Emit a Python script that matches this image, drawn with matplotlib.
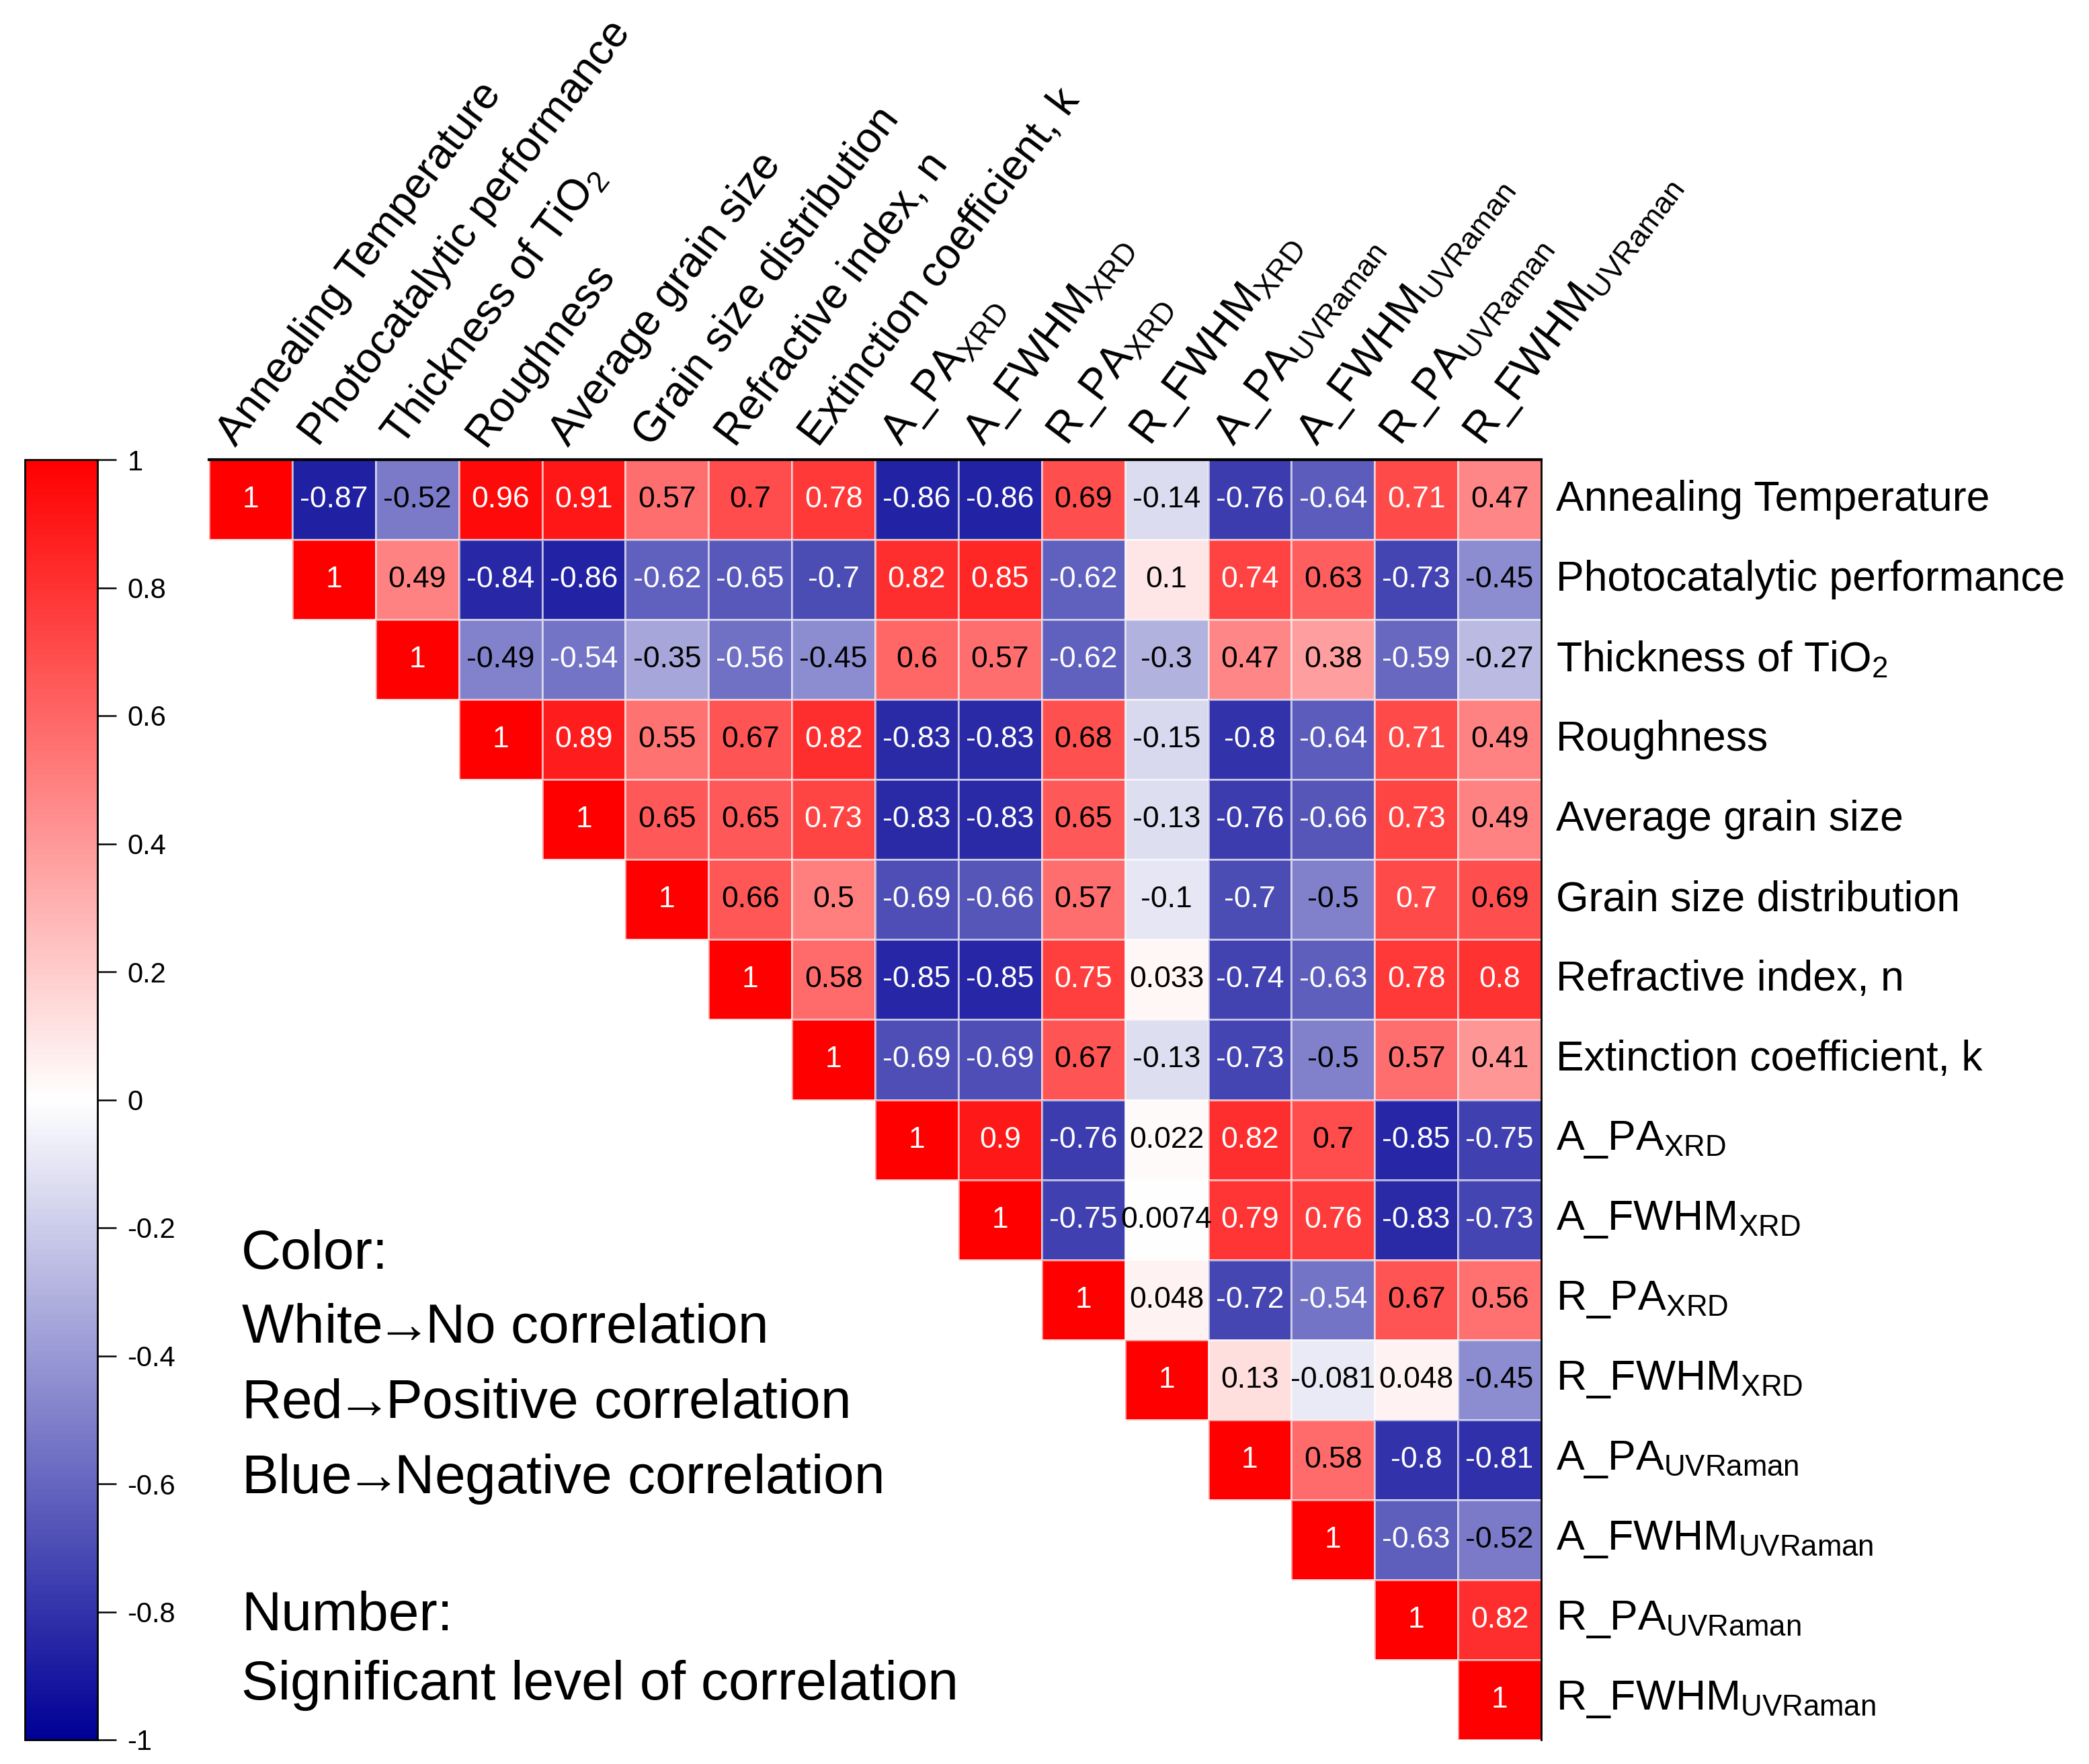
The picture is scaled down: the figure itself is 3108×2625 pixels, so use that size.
import numpy as np
import matplotlib.pyplot as plt
from matplotlib.colors import LinearSegmentedColormap

plt.rcParams['font.family'] = ['Liberation Sans', 'DejaVu Sans']
plt.rcParams['mathtext.fontset'] = 'custom'
plt.rcParams['mathtext.rm'] = 'Liberation Sans'
plt.rcParams['mathtext.it'] = 'Liberation Sans:italic'

# variable names (rows = columns)
labels = ['Annealing Temperature', 'Photocatalytic performance', r'Thickness of TiO$_2$',
          'Roughness', 'Average grain size', 'Grain size distribution',
          'Refractive index, n', 'Extinction coefficient, k',
          r'A_PA$_{\mathrm{XRD}}$', r'A_FWHM$_{\mathrm{XRD}}$',
          r'R_PA$_{\mathrm{XRD}}$', r'R_FWHM$_{\mathrm{XRD}}$',
          r'A_PA$_{\mathrm{UVRaman}}$', r'A_FWHM$_{\mathrm{UVRaman}}$',
          r'R_PA$_{\mathrm{UVRaman}}$', r'R_FWHM$_{\mathrm{UVRaman}}$']

# upper triangle of the correlation matrix, row by row (starting at the diagonal)
r0 = [1, -0.87, -0.52, 0.96, 0.91, 0.57, 0.7, 0.78, -0.86, -0.86, 0.69, -0.14, -0.76, -0.64, 0.71, 0.47]
r1 = [1, 0.49, -0.84, -0.86, -0.62, -0.65, -0.7, 0.82, 0.85, -0.62, 0.1, 0.74, 0.63, -0.73, -0.45]
r2 = [1, -0.49, -0.54, -0.35, -0.56, -0.45, 0.6, 0.57, -0.62, -0.3, 0.47, 0.38, -0.59, -0.27]
r3 = [1, 0.89, 0.55, 0.67, 0.82, -0.83, -0.83, 0.68, -0.15, -0.8, -0.64, 0.71, 0.49]
r4 = [1, 0.65, 0.65, 0.73, -0.83, -0.83, 0.65, -0.13, -0.76, -0.66, 0.73, 0.49]
r5 = [1, 0.66, 0.5, -0.69, -0.66, 0.57, -0.1, -0.7, -0.5, 0.704, 0.69]
r6 = [1, 0.58, -0.85, -0.85, 0.75, 0.033, -0.74, -0.63, 0.78, 0.8]
r7 = [1, -0.69, -0.69, 0.67, -0.13, -0.73, -0.5, 0.57, 0.41]
r8 = [1, 0.9, -0.76, 0.022, 0.82, 0.7, -0.85, -0.75]
r9 = [1, -0.75, 0.0074, 0.79, 0.76, -0.83, -0.73]
r10 = [1, 0.048, -0.72, -0.54, 0.67, 0.56]
r11 = [1, 0.13, -0.081, 0.048, -0.45]
r12 = [1, 0.58, -0.8, -0.81]
r13 = [1, -0.63, -0.52]
r14 = [1, 0.82]
r15 = [1]
rows = [r0, r1, r2, r3, r4, r5, r6, r7, r8, r9, r10, r11, r12, r13, r14, r15]

arrow = r'$\!\!\rightarrow\!\!$'
legend_lines = ['Color:', 'White' + arrow + 'No correlation', 'Red' + arrow + 'Positive correlation',
                'Blue' + arrow + 'Negative correlation', 'Number:', 'Significant level of correlation']

n = len(labels)
mat = np.full((n, n), np.nan)
for i, r in enumerate(rows):
    mat[i, i:] = r
mat = np.ma.masked_invalid(mat)

W, H = 3108, 2625
fig = plt.figure(figsize=(W / 100, H / 100), dpi=100)

def box(x0, y0, x1, y1):
    # pixel box -> figure fraction [left, bottom, width, height]
    return [x0 / W, 1 - y1 / H, (x1 - x0) / W, (y1 - y0) / H]

cmap = LinearSegmentedColormap.from_list('bwr2', ['#000096', '#ffffff', '#ff0000'])

ax = fig.add_axes(box(311, 684, 2293, 2589))
mesh = ax.pcolormesh(np.arange(n + 1) - 0.5, np.arange(n + 1) - 0.5, mat, cmap=cmap,
                     vmin=-1, vmax=1, edgecolors=(1, 1, 1, 0.6), linewidth=1)
ax.set_xlim(-0.5, n - 0.5)
ax.set_ylim(n - 0.5, -0.5)
ax.set_xticks([])
ax.set_yticks([])
for s in ['left', 'bottom']:
    ax.spines[s].set_visible(False)
ax.spines['top'].set_linewidth(3)
ax.spines['right'].set_linewidth(2)

for i in range(n):
    for j in range(i, n):
        v = mat[i, j]
        col = 'white' if (v > 0.70 or v < -0.53) else 'black'
        ax.text(j, i, f'{v:.2g}', ha='center', va='center', fontsize=32, color=col)

for k, lab in enumerate(labels):
    ax.text(n - 0.5 + 0.18, k, lab, ha='left', va='center', fontsize=45, clip_on=False)
    ax.text(k - 0.1, -0.58, lab, ha='left', va='bottom', rotation=53,
            rotation_mode='anchor', fontsize=46, clip_on=False)

cax = fig.add_axes(box(37, 684, 145, 2589))
cb = fig.colorbar(mesh, cax=cax, ticks=np.linspace(-1, 1, 11))
cb.ax.set_yticklabels([f'{t:g}' for t in np.round(np.linspace(-1, 1, 11), 1)])
cb.ax.tick_params(labelsize=30, length=20, width=1.8, pad=12)
cb.outline.set_linewidth(2)

baselines = [1888, 1998, 2110, 2222, 2426, 2529]
for txt, yb in zip(legend_lines, baselines):
    fig.text(359 / W, 1 - yb / H, txt, ha='left', va='baseline', fontsize=59)

fig.savefig('out.png', dpi=100)
